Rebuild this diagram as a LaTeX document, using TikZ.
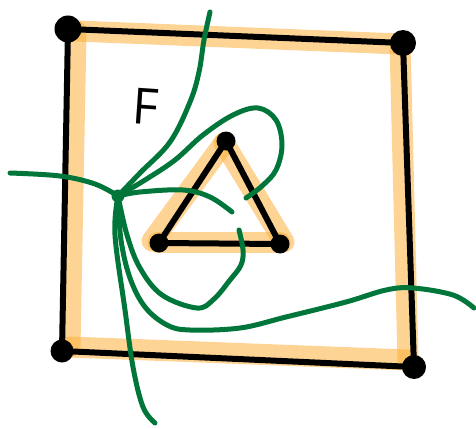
\documentclass[tikz,border=0pt]{standalone}
\usepackage{fontspec}
\newfontfamily\handfont{Open Sans}
\definecolor{hl}{RGB}{251,176,59}
\definecolor{vgreen}{RGB}{0,118,58}
\begin{document}
\begin{tikzpicture}[x=1pt,y=-1pt,
  edge/.style={line width=6pt,line cap=round,line join=round},
  glow/.style={line width=21pt,line cap=round,draw=hl,opacity=0.55},
  vdot/.style={circle,fill=black,inner sep=0pt,minimum size=#1},
  vine/.style={draw=vgreen,line width=5pt,line cap=round,line join=round}]
\useasboundingbox (0,0) rectangle (476,428);
% square corners
\coordinate (A) at (68,29);
\coordinate (B) at (403,43);
\coordinate (C) at (414,367);
\coordinate (D) at (62,351);
% triangle vertices
\coordinate (P) at (226,141);
\coordinate (Q) at (159,243);
\coordinate (R) at (280,244);
% highlight
\draw[glow] (76,31) -- (400,44);
\draw[glow] (400,44) -- (408,360);
\draw[glow] (408,360) -- (70,347);
\draw[glow] (70,347) -- (76,31);
\draw[glow] (224,143) -- (152,241);
\draw[glow] (224,143) -- (284,242);
\draw[glow] (158,242) -- (280,242);
% black edges
\draw[edge] (A) -- (B) -- (C) -- (D) -- cycle;
\draw[edge] (P) -- (Q) -- (R) -- cycle;
% dots
\node[vdot=27pt] (dA) at (A) {};
\node[vdot=26pt] (dB) at (B) {};
\node[vdot=24pt] (dC) at (C) {};
\node[vdot=23pt] (dD) at (D) {};
\node[vdot=19pt] (dP) at (P) {};
\node[vdot=19pt] (dQ) at (Q) {};
\node[vdot=19pt] (dR) at (R) {};
% label
\node[font=\handfont\fontsize{50}{50}\selectfont,rotate=-4] (lbl) at (146,107) {F};
% green curves
\node[circle,fill=vgreen,minimum size=13pt,inner sep=0pt] (hub) at (118,196) {};
\coordinate (e1) at (210,12);
\coordinate (e2) at (246,198);
\coordinate (e3) at (10,173);
\coordinate (e4) at (232,212);
\coordinate (e5) at (155,423);
\coordinate (e6) at (239,230);
\coordinate (e7) at (474,308);
\draw[vine] plot[smooth,tension=0.6] coordinates {(e1) (204,40) (199,72) (190,102) (170,142) (140,173) (hub.center)};
\draw[vine] plot[smooth,tension=0.6] coordinates {(hub.center) (145,180) (175,160) (203,135) (233,115) (258,108) (276,120) (282,145) (276,170) (262,186) (e2)};
\draw[vine] plot[smooth,tension=0.6] coordinates {(e3) (60,176) (95,184) (hub.center)};
\draw[vine] plot[smooth,tension=0.6] coordinates {(hub.center) (140,192) (183,190) (210,197) (e4)};
\draw[vine] plot[smooth,tension=0.6] coordinates {(hub.center) (115,235) (125,310) (133,367) (143,407) (e5)};
\draw[vine] plot[smooth,tension=0.6] coordinates {(hub.center) (127,235) (140,268) (162,295) (197,308) (214,299) (230,280) (241,265) (243,250) (e6)};
\draw[vine] plot[smooth,tension=0.6] coordinates {(hub.center) (121,240) (130,278) (145,307) (167,325) (190,330) (240,328) (286,317) (346,302) (386,290) (413,288) (453,295) (e7)};
\end{tikzpicture}
\end{document}
